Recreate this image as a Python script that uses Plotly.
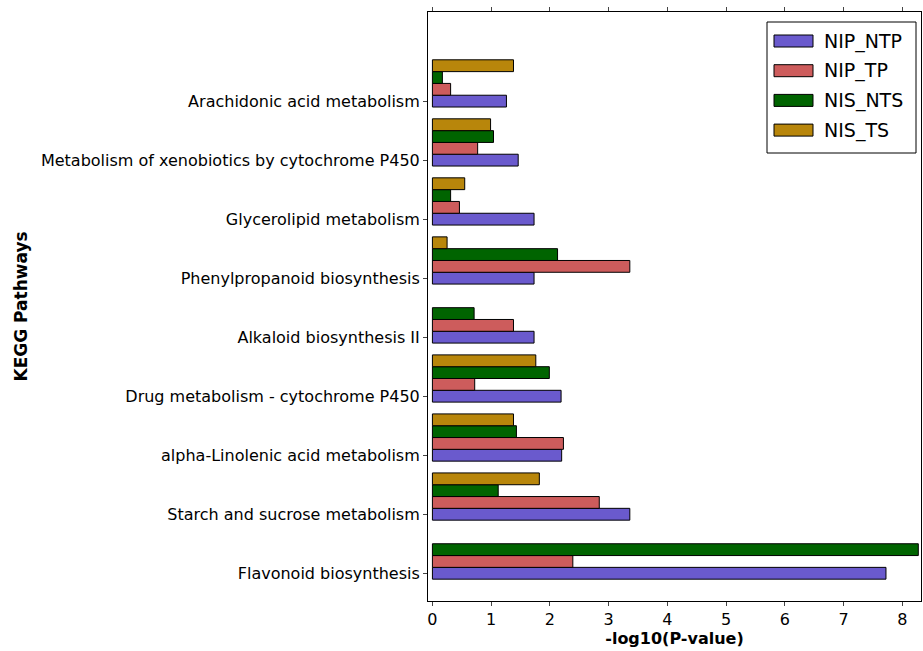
import plotly.graph_objects as go

pathways = ["Flavonoid biosynthesis", "Starch and sucrose metabolism",
            "alpha-Linolenic acid metabolism", "Drug metabolism - cytochrome P450",
            "Alkaloid biosynthesis II", "Phenylpropanoid biosynthesis",
            "Glycerolipid metabolism", "Metabolism of xenobiotics by cytochrome P450",
            "Arachidonic acid metabolism"]
series_names = ["NIP_NTP", "NIP_TP", "NIS_NTS", "NIS_TS"]
nip_ntp = [7.72, 3.36, 2.20, 2.19, 1.73, 1.73, 1.73, 1.46, 1.26]
nip_tp = [2.39, 2.84, 2.23, 0.72, 1.38, 3.36, 0.46, 0.77, 0.31]
nis_nts = [8.27, 1.12, 1.43, 1.99, 0.71, 2.13, 0.31, 1.04, 0.17]
nis_ts = [0.0, 1.82, 1.38, 1.76, 0.0, 0.25, 0.55, 0.99, 1.38]
colors = ["#6A5ACD", "#CD5C5C", "#006400", "#B8860B"]
x_ticks = [0, 1, 2, 3, 4, 5, 6, 7, 8]

series = [nip_ntp, nip_tp, nis_nts, nis_ts]
bw = 0.2
FONT = "DejaVu Sans"

W, H = 923, 651
# plot box in page coordinates
PL, PR, PT, PB = 428, 921, 12, 601
ml, mt = PL, PT
mr, mb = W - PR, H - PB
pw, ph = PR - PL, PB - PT

def px(x):
    return (x - PL) / pw

def py(y):
    return 1 - (y - PT) / ph

fig = go.Figure()
for k, (name, vals, col) in enumerate(zip(series_names, series, colors)):
    fig.add_trace(go.Bar(
        x=vals, y=[i + k * bw for i in range(len(pathways))],
        orientation="h", width=bw, name=name,
        marker=dict(color=col,
                    line=dict(color="black", width=[1 if v > 0 else 0 for v in vals])),
        showlegend=False,
    ))

# manual legend (matplotlib-like)
lx0, lx1, ly0, ly1 = 767, 916, 22, 153
shapes = [dict(type="rect", xref="paper", yref="paper",
               x0=px(lx0), x1=px(lx1), y0=py(ly1), y1=py(ly0),
               line=dict(color="black", width=1), fillcolor="white")]
annotations = []
for k, (name, col) in enumerate(zip(series_names, colors)):
    yc = 41 + k * 29.7
    shapes.append(dict(type="rect", xref="paper", yref="paper",
                       x0=px(774), x1=px(813), y0=py(yc + 6), y1=py(yc - 6),
                       line=dict(color="black", width=1), fillcolor=col))
    annotations.append(dict(xref="paper", yref="paper", x=px(822), y=py(yc),
                            text=name, showarrow=False, xanchor="left",
                            yanchor="middle",
                            font=dict(family=FONT, size=19, color="black")))

fig.update_layout(
    width=W, height=H,
    margin=dict(l=ml, r=mr, t=mt, b=mb, autoexpand=False),
    plot_bgcolor="white", paper_bgcolor="white",
    barmode="overlay",
    font=dict(family=FONT, size=16, color="black"),
    shapes=shapes, annotations=annotations,
    xaxis=dict(range=[-0.075, 8.316], tickvals=x_ticks, ticks="outside", ticklen=4,
               showgrid=False, zeroline=False, showline=True, linecolor="black",
               linewidth=1, mirror="ticks", tickfont=dict(size=16), automargin=False,
               title=dict(text="<b>-log10(P-value)</b>", font=dict(size=16), standoff=2)),
    yaxis=dict(range=[-0.47, 9.51], tickvals=list(range(len(pathways))),
               ticktext=pathways, ticks="outside", ticklen=4, automargin=False,
               showgrid=False, zeroline=False, showline=True, linecolor="black",
               linewidth=1, mirror=True, tickfont=dict(size=16)),
)
fig.add_annotation(xref="paper", yref="paper", x=px(20), y=0.5, xanchor="center",
                   text="<b>KEGG Pathways</b>", textangle=-90, showarrow=False,
                   font=dict(family=FONT, size=17, color="black"))
fig.write_html("out.html", config={"displayModeBar": False},
               post_script="document.body.style.margin='0px';document.body.style.overflow='hidden';")
